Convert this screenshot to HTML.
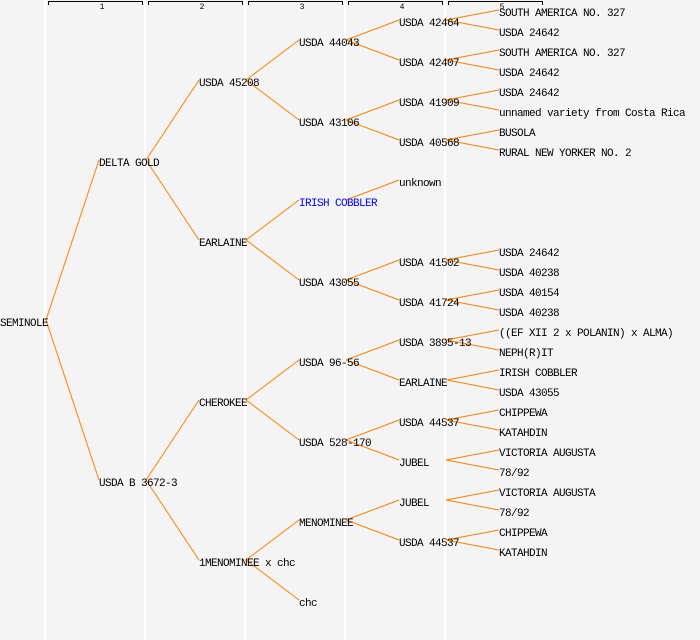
<!DOCTYPE html>
<html><head><meta charset="utf-8"><style>
html,body{margin:0;padding:0;background:#f4f4f4;}
svg{display:block;}
text{font-family:"Liberation Mono",monospace;font-size:11px;letter-spacing:-0.6px;fill:#000;}
</style></head><body>
<svg width="700" height="640" viewBox="0 0 700 640" xmlns="http://www.w3.org/2000/svg">
<rect width="700" height="640" fill="#f4f4f4"/>
<g stroke="#fff" stroke-width="2">
<line x1="45" y1="0" x2="45" y2="640"/><line x1="145" y1="0" x2="145" y2="640"/><line x1="245" y1="0" x2="245" y2="640"/><line x1="345" y1="0" x2="345" y2="640"/><line x1="445" y1="0" x2="445" y2="640"/>
</g>
<g stroke="#000" stroke-width="1" fill="none">
<path d="M48.5 5V1.5H142.5V5"/><path d="M148.5 5V1.5H242.5V5"/><path d="M248.5 5V1.5H342.5V5"/><path d="M348.5 5V1.5H442.5V5"/><path d="M448.5 5V1.5H542.5V5"/>
</g>
<g text-anchor="middle">
<text x="102" y="9" style="font-size:8px;letter-spacing:0">1</text><text x="202" y="9" style="font-size:8px;letter-spacing:0">2</text><text x="302" y="9" style="font-size:8px;letter-spacing:0">3</text><text x="402" y="9" style="font-size:8px;letter-spacing:0">4</text><text x="502" y="9" style="font-size:8px;letter-spacing:0">5</text>
</g>
<g stroke="#ff8000" stroke-width="1" fill="none">
<line x1="46" y1="320" x2="99" y2="160"/><line x1="46" y1="320" x2="99" y2="480"/>
<line x1="146" y1="160" x2="199" y2="80"/><line x1="146" y1="160" x2="199" y2="240"/>
<line x1="146" y1="480" x2="199" y2="400"/><line x1="146" y1="480" x2="199" y2="560"/>
<line x1="246" y1="80" x2="299" y2="40"/><line x1="246" y1="80" x2="299" y2="120"/>
<line x1="246" y1="240" x2="299" y2="200"/><line x1="246" y1="240" x2="299" y2="280"/>
<line x1="246" y1="400" x2="299" y2="360"/><line x1="246" y1="400" x2="299" y2="440"/>
<line x1="246" y1="560" x2="299" y2="520"/><line x1="246" y1="560" x2="299" y2="600"/>
<line x1="346" y1="40" x2="399" y2="20"/><line x1="346" y1="40" x2="399" y2="60"/>
<line x1="346" y1="120" x2="399" y2="100"/><line x1="346" y1="120" x2="399" y2="140"/>
<line x1="346" y1="200" x2="399" y2="180"/>
<line x1="346" y1="280" x2="399" y2="260"/><line x1="346" y1="280" x2="399" y2="300"/>
<line x1="346" y1="360" x2="399" y2="340"/><line x1="346" y1="360" x2="399" y2="380"/>
<line x1="346" y1="440" x2="399" y2="420"/><line x1="346" y1="440" x2="399" y2="460"/>
<line x1="346" y1="520" x2="399" y2="500"/><line x1="346" y1="520" x2="399" y2="540"/>
<line x1="446" y1="20" x2="499" y2="10"/><line x1="446" y1="20" x2="499" y2="30"/>
<line x1="446" y1="60" x2="499" y2="50"/><line x1="446" y1="60" x2="499" y2="70"/>
<line x1="446" y1="100" x2="499" y2="90"/><line x1="446" y1="100" x2="499" y2="110"/>
<line x1="446" y1="140" x2="499" y2="130"/><line x1="446" y1="140" x2="499" y2="150"/>
<line x1="446" y1="260" x2="499" y2="250"/><line x1="446" y1="260" x2="499" y2="270"/>
<line x1="446" y1="300" x2="499" y2="290"/><line x1="446" y1="300" x2="499" y2="310"/>
<line x1="446" y1="340" x2="499" y2="330"/><line x1="446" y1="340" x2="499" y2="350"/>
<line x1="447" y1="380" x2="499" y2="370"/><line x1="447" y1="380" x2="499" y2="390"/>
<line x1="446" y1="420" x2="499" y2="410"/><line x1="446" y1="420" x2="499" y2="430"/>
<line x1="446" y1="460" x2="499" y2="450"/><line x1="446" y1="460" x2="499" y2="470"/>
<line x1="446" y1="500" x2="499" y2="490"/><line x1="446" y1="500" x2="499" y2="510"/>
<line x1="446" y1="540" x2="499" y2="530"/><line x1="446" y1="540" x2="499" y2="550"/>
</g>
<g>
<text x="0" y="326">SEMINOLE</text>
<text x="99" y="166">DELTA GOLD</text>
<text x="99" y="486">USDA B 3672-3</text>
<text x="199" y="86">USDA 45208</text>
<text x="199" y="246">EARLAINE</text>
<text x="199" y="406">CHEROKEE</text>
<text x="199" y="566">1MENOMINEE x chc</text>
<text x="299" y="46">USDA 44043</text>
<text x="299" y="126">USDA 43106</text>
<text x="299" y="206" style="fill:#0000ff">IRISH COBBLER</text>
<text x="299" y="286">USDA 43055</text>
<text x="299" y="366">USDA 96-56</text>
<text x="299" y="446">USDA 528-170</text>
<text x="299" y="526">MENOMINEE</text>
<text x="299" y="606">chc</text>
<text x="399" y="26">USDA 42464</text>
<text x="399" y="66">USDA 42407</text>
<text x="399" y="106">USDA 41909</text>
<text x="399" y="146">USDA 40568</text>
<text x="399" y="186">unknown</text>
<text x="399" y="266">USDA 41502</text>
<text x="399" y="306">USDA 41724</text>
<text x="399" y="346">USDA 3895-13</text>
<text x="399" y="386">EARLAINE</text>
<text x="399" y="426">USDA 44537</text>
<text x="399" y="466">JUBEL</text>
<text x="399" y="506">JUBEL</text>
<text x="399" y="546">USDA 44537</text>
<text x="499" y="16">SOUTH AMERICA NO. 327</text>
<text x="499" y="36">USDA 24642</text>
<text x="499" y="56">SOUTH AMERICA NO. 327</text>
<text x="499" y="76">USDA 24642</text>
<text x="499" y="96">USDA 24642</text>
<text x="499" y="116">unnamed variety from Costa Rica</text>
<text x="499" y="136">BUSOLA</text>
<text x="499" y="156">RURAL NEW YORKER NO. 2</text>
<text x="499" y="256">USDA 24642</text>
<text x="499" y="276">USDA 40238</text>
<text x="499" y="296">USDA 40154</text>
<text x="499" y="316">USDA 40238</text>
<text x="499" y="336">((EF XII 2 x POLANIN) x ALMA)</text>
<text x="499" y="356">NEPH(R)IT</text>
<text x="499" y="376">IRISH COBBLER</text>
<text x="499" y="396">USDA 43055</text>
<text x="499" y="416">CHIPPEWA</text>
<text x="499" y="436">KATAHDIN</text>
<text x="499" y="456">VICTORIA AUGUSTA</text>
<text x="499" y="476">78/92</text>
<text x="499" y="496">VICTORIA AUGUSTA</text>
<text x="499" y="516">78/92</text>
<text x="499" y="536">CHIPPEWA</text>
<text x="499" y="556">KATAHDIN</text>
</g>
</svg>
</body></html>
